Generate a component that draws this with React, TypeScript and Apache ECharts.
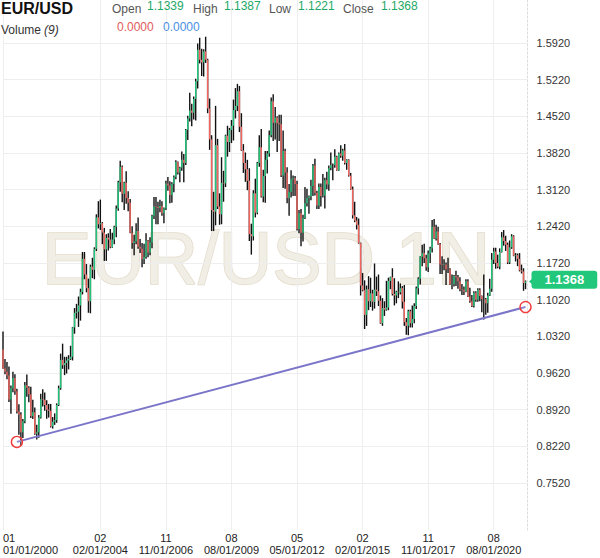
import React, { useEffect, useRef } from "react";
import * as echarts from "echarts";

// Monthly EUR/USD candles, Jan 2000 – Dec 2021
const OPEN = [
  1.0070, 0.9705, 0.9645, 0.9574, 0.9116, 0.9330, 0.9525, 0.9272, 0.8887, 0.8829, 0.8488, 0.8700,
  0.9388, 0.9340, 0.9215, 0.8800, 0.8870, 0.8460, 0.8490, 0.8770, 0.9120, 0.9110, 0.9010, 0.8920,
  0.8900, 0.8600, 0.8690, 0.8720, 0.9010, 0.9330, 0.9870, 0.9770, 0.9810, 0.9860, 0.9890, 0.9930,
  1.0490, 1.0770, 1.0790, 1.0910, 1.1170, 1.1800, 1.1500, 1.1240, 1.0990, 1.1650, 1.1590, 1.1990,
  1.2590, 1.2460, 1.2480, 1.2300, 1.1980, 1.2200, 1.2170, 1.2020, 1.2170, 1.2410, 1.2760, 1.3260,
  1.3560, 1.3040, 1.3250, 1.2960, 1.2870, 1.2300, 1.2100, 1.2130, 1.2330, 1.2030, 1.1990, 1.1790,
  1.1840, 1.2150, 1.1920, 1.2110, 1.2620, 1.2800, 1.2790, 1.2770, 1.2810, 1.2670, 1.2760, 1.3240,
  1.3200, 1.3020, 1.3230, 1.3360, 1.3650, 1.3450, 1.3540, 1.3690, 1.3630, 1.4260, 1.4480, 1.4630,
  1.4590, 1.4850, 1.5190, 1.5790, 1.5600, 1.5550, 1.5760, 1.5600, 1.4670, 1.4080, 1.2730, 1.2700,
  1.3970, 1.2800, 1.2650, 1.3250, 1.3240, 1.4150, 1.4030, 1.4260, 1.4340, 1.4640, 1.4720, 1.5000,
  1.4320, 1.3870, 1.3630, 1.3510, 1.3290, 1.2270, 1.2230, 1.3050, 1.2680, 1.3630, 1.3930, 1.2990,
  1.3380, 1.3690, 1.3810, 1.4160, 1.4810, 1.4400, 1.4500, 1.4390, 1.4370, 1.3390, 1.3860, 1.3450,
  1.2960, 1.3080, 1.3320, 1.3340, 1.3230, 1.2370, 1.2670, 1.2300, 1.2580, 1.2860, 1.2960, 1.2990,
  1.3190, 1.3580, 1.3060, 1.2820, 1.3170, 1.3000, 1.3010, 1.3300, 1.3220, 1.3530, 1.3590, 1.3590,
  1.3750, 1.3490, 1.3810, 1.3770, 1.3870, 1.3630, 1.3690, 1.3390, 1.3130, 1.2630, 1.2530, 1.2450,
  1.2100, 1.1290, 1.1200, 1.0730, 1.1220, 1.0990, 1.1140, 1.0980, 1.1210, 1.1180, 1.1000, 1.0570,
  1.0860, 1.0830, 1.0870, 1.1380, 1.1450, 1.1130, 1.1100, 1.1170, 1.1160, 1.1240, 1.0980, 1.0590,
  1.0520, 1.0800, 1.0570, 1.0650, 1.0900, 1.1240, 1.1420, 1.1840, 1.1910, 1.1810, 1.1640, 1.1900,
  1.2000, 1.2410, 1.2190, 1.2320, 1.2080, 1.1690, 1.1680, 1.1690, 1.1600, 1.1600, 1.1310, 1.1320,
  1.1470, 1.1450, 1.1370, 1.1220, 1.1210, 1.1170, 1.1370, 1.1080, 1.0990, 1.0900, 1.1150, 1.1020,
  1.1210, 1.1090, 1.1030, 1.1030, 1.0950, 1.1100, 1.1230, 1.1780, 1.1940, 1.1720, 1.1650, 1.1930,
  1.2210, 1.2140, 1.2070, 1.1730, 1.2020, 1.2230, 1.1860, 1.1870, 1.1800, 1.1580, 1.1560, 1.1339,
];

const HIGH = [
  1.0414, 0.9888, 0.9830, 0.9745, 0.9380, 0.9645, 0.9595, 0.9320, 0.9025, 0.8870, 0.8740, 0.9450,
  0.9593, 0.9365, 0.9360, 0.9110, 0.8960, 0.8630, 0.8820, 0.9225, 0.9310, 0.9250, 0.9100, 0.9030,
  0.9030, 0.8780, 0.8850, 0.9040, 0.9380, 0.9990, 1.0180, 0.9930, 0.9930, 0.9960, 1.0140, 1.0500,
  1.0860, 1.0940, 1.1080, 1.1230, 1.1930, 1.1930, 1.1700, 1.1420, 1.1690, 1.1820, 1.2020, 1.2650,
  1.2900, 1.2930, 1.2500, 1.2390, 1.2270, 1.2290, 1.2370, 1.2300, 1.2430, 1.2820, 1.3290, 1.3670,
  1.3580, 1.3270, 1.3470, 1.3090, 1.2940, 1.2420, 1.2260, 1.2480, 1.2590, 1.2180, 1.2100, 1.2090,
  1.2290, 1.2160, 1.2210, 1.2640, 1.2980, 1.2980, 1.2890, 1.2930, 1.2900, 1.2780, 1.3290, 1.3360,
  1.3280, 1.3260, 1.3390, 1.3680, 1.3660, 1.3560, 1.3850, 1.3800, 1.4280, 1.4530, 1.4970, 1.4760,
  1.4900, 1.5240, 1.5910, 1.6020, 1.5810, 1.5800, 1.6040, 1.5620, 1.4860, 1.4160, 1.3080, 1.4720,
  1.4090, 1.3050, 1.3740, 1.3480, 1.4170, 1.4340, 1.4300, 1.4450, 1.4840, 1.5060, 1.5140, 1.5100,
  1.4580, 1.3990, 1.3830, 1.3690, 1.3530, 1.2470, 1.3110, 1.3330, 1.3650, 1.4160, 1.4280, 1.3500,
  1.3860, 1.3860, 1.4250, 1.4880, 1.4940, 1.4700, 1.4520, 1.4550, 1.4550, 1.4250, 1.3900, 1.3550,
  1.3230, 1.3490, 1.3390, 1.3380, 1.3290, 1.2730, 1.2750, 1.2640, 1.3170, 1.3140, 1.3010, 1.3310,
  1.3610, 1.3710, 1.3100, 1.3240, 1.3240, 1.3420, 1.3350, 1.3460, 1.3580, 1.3830, 1.3620, 1.3890,
  1.3770, 1.3830, 1.3970, 1.3900, 1.3990, 1.3700, 1.3700, 1.3440, 1.3180, 1.2890, 1.2600, 1.2570,
  1.2110, 1.1530, 1.1390, 1.1290, 1.1470, 1.1440, 1.1210, 1.1710, 1.1460, 1.1500, 1.1100, 1.1050,
  1.0990, 1.1380, 1.1440, 1.1460, 1.1620, 1.1430, 1.1190, 1.1370, 1.1330, 1.1280, 1.1300, 1.0670,
  1.0830, 1.0830, 1.0910, 1.0950, 1.1270, 1.1450, 1.1850, 1.2070, 1.2090, 1.1880, 1.1960, 1.2030,
  1.2540, 1.2560, 1.2450, 1.2410, 1.2100, 1.1850, 1.1790, 1.1730, 1.1820, 1.1620, 1.1500, 1.1490,
  1.1570, 1.1490, 1.1450, 1.1320, 1.1270, 1.1410, 1.1410, 1.1250, 1.1110, 1.1180, 1.1180, 1.1240,
  1.1240, 1.1100, 1.1500, 1.1050, 1.1150, 1.1420, 1.1910, 1.2010, 1.2010, 1.1880, 1.2000, 1.2310,
  1.2350, 1.2240, 1.2110, 1.2150, 1.2270, 1.2250, 1.1910, 1.1900, 1.1910, 1.1690, 1.1620, 1.1387,
];

const LOW = [
  0.9700, 0.9596, 0.9502, 0.9066, 0.8844, 0.9255, 0.9203, 0.8845, 0.8440, 0.8228, 0.8380, 0.8660,
  0.9165, 0.9060, 0.8760, 0.8740, 0.8440, 0.8350, 0.8385, 0.8750, 0.8980, 0.8900, 0.8745, 0.8770,
  0.8580, 0.8560, 0.8630, 0.8670, 0.8990, 0.9300, 0.9700, 0.9580, 0.9610, 0.9690, 0.9870, 0.9860,
  1.0370, 1.0660, 1.0500, 1.0620, 1.1120, 1.1410, 1.1160, 1.0770, 1.0760, 1.1430, 1.1410, 1.1950,
  1.2380, 1.2350, 1.2080, 1.1760, 1.1760, 1.1960, 1.2000, 1.2010, 1.2080, 1.2210, 1.2720, 1.3080,
  1.2880, 1.2730, 1.2850, 1.2710, 1.2290, 1.1990, 1.1870, 1.2080, 1.1990, 1.1910, 1.1640, 1.1700,
  1.1800, 1.1830, 1.1870, 1.2000, 1.2560, 1.2460, 1.2460, 1.2690, 1.2620, 1.2480, 1.2730, 1.3100,
  1.2860, 1.2870, 1.3070, 1.3320, 1.3410, 1.3260, 1.3480, 1.3260, 1.3590, 1.4070, 1.4420, 1.4330,
  1.4460, 1.4440, 1.5050, 1.5530, 1.5290, 1.5280, 1.5540, 1.4580, 1.3880, 1.2330, 1.2330, 1.2440,
  1.2750, 1.2450, 1.2460, 1.2890, 1.3170, 1.3750, 1.3840, 1.4010, 1.4060, 1.4480, 1.4620, 1.4220,
  1.3860, 1.3440, 1.3270, 1.3110, 1.2140, 1.1880, 1.2150, 1.2590, 1.2650, 1.3560, 1.2970, 1.2880,
  1.2870, 1.3430, 1.3750, 1.4120, 1.4050, 1.4080, 1.3840, 1.4050, 1.3360, 1.3150, 1.3140, 1.2860,
  1.2620, 1.2970, 1.3000, 1.3000, 1.2340, 1.2290, 1.2040, 1.2130, 1.2560, 1.2800, 1.2660, 1.2920,
  1.3000, 1.3010, 1.2750, 1.2750, 1.2800, 1.2970, 1.2760, 1.3130, 1.3100, 1.3490, 1.3300, 1.3540,
  1.3480, 1.3480, 1.3730, 1.3670, 1.3600, 1.3500, 1.3370, 1.3120, 1.2570, 1.2500, 1.2360, 1.2090,
  1.1100, 1.1180, 1.0460, 1.0520, 1.0820, 1.0880, 1.0810, 1.0850, 1.1090, 1.0900, 1.0560, 1.0520,
  1.0710, 1.0810, 1.0820, 1.1220, 1.1100, 1.0910, 1.0950, 1.1050, 1.1120, 1.0850, 1.0520, 1.0350,
  1.0340, 1.0490, 1.0490, 1.0570, 1.0840, 1.1120, 1.1310, 1.1660, 1.1720, 1.1570, 1.1550, 1.1720,
  1.1920, 1.2180, 1.2150, 1.2070, 1.1510, 1.1510, 1.1580, 1.1300, 1.1530, 1.1300, 1.1220, 1.1270,
  1.1280, 1.1230, 1.1180, 1.1110, 1.1110, 1.1160, 1.1070, 1.0960, 1.0880, 1.0870, 1.0980, 1.0980,
  1.0990, 1.0780, 1.0640, 1.0730, 1.0770, 1.1090, 1.1170, 1.1700, 1.1610, 1.1620, 1.1600, 1.1920,
  1.2050, 1.1950, 1.1700, 1.1700, 1.1990, 1.1850, 1.1750, 1.1660, 1.1560, 1.1520, 1.1190, 1.1221,
];

const CLOSE = [
  0.9705, 0.9645, 0.9574, 0.9116, 0.9330, 0.9525, 0.9272, 0.8887, 0.8829, 0.8488, 0.8700, 0.9388,
  0.9340, 0.9215, 0.8800, 0.8870, 0.8460, 0.8490, 0.8770, 0.9120, 0.9110, 0.9010, 0.8920, 0.8900,
  0.8600, 0.8690, 0.8720, 0.9010, 0.9330, 0.9870, 0.9770, 0.9810, 0.9860, 0.9890, 0.9930, 1.0490,
  1.0770, 1.0790, 1.0910, 1.1170, 1.1800, 1.1500, 1.1240, 1.0990, 1.1650, 1.1590, 1.1990, 1.2590,
  1.2460, 1.2480, 1.2300, 1.1980, 1.2200, 1.2170, 1.2020, 1.2170, 1.2410, 1.2760, 1.3260, 1.3560,
  1.3040, 1.3250, 1.2960, 1.2870, 1.2300, 1.2100, 1.2130, 1.2330, 1.2030, 1.1990, 1.1790, 1.1840,
  1.2150, 1.1920, 1.2110, 1.2620, 1.2800, 1.2790, 1.2770, 1.2810, 1.2670, 1.2760, 1.3240, 1.3200,
  1.3020, 1.3230, 1.3360, 1.3650, 1.3450, 1.3540, 1.3690, 1.3630, 1.4260, 1.4480, 1.4630, 1.4590,
  1.4850, 1.5190, 1.5790, 1.5600, 1.5550, 1.5760, 1.5600, 1.4670, 1.4080, 1.2730, 1.2700, 1.3970,
  1.2800, 1.2650, 1.3250, 1.3240, 1.4150, 1.4030, 1.4260, 1.4340, 1.4640, 1.4720, 1.5000, 1.4320,
  1.3870, 1.3630, 1.3510, 1.3290, 1.2270, 1.2230, 1.3050, 1.2680, 1.3630, 1.3930, 1.2990, 1.3380,
  1.3690, 1.3810, 1.4160, 1.4810, 1.4400, 1.4500, 1.4390, 1.4370, 1.3390, 1.3860, 1.3450, 1.2960,
  1.3080, 1.3320, 1.3340, 1.3230, 1.2370, 1.2670, 1.2300, 1.2580, 1.2860, 1.2960, 1.2990, 1.3190,
  1.3580, 1.3060, 1.2820, 1.3170, 1.3000, 1.3010, 1.3300, 1.3220, 1.3530, 1.3590, 1.3590, 1.3750,
  1.3490, 1.3810, 1.3770, 1.3870, 1.3630, 1.3690, 1.3390, 1.3130, 1.2630, 1.2530, 1.2450, 1.2100,
  1.1290, 1.1200, 1.0730, 1.1220, 1.0990, 1.1140, 1.0980, 1.1210, 1.1180, 1.1000, 1.0570, 1.0860,
  1.0830, 1.0870, 1.1380, 1.1450, 1.1130, 1.1100, 1.1170, 1.1160, 1.1240, 1.0980, 1.0590, 1.0520,
  1.0800, 1.0570, 1.0650, 1.0900, 1.1240, 1.1420, 1.1840, 1.1910, 1.1810, 1.1640, 1.1900, 1.2000,
  1.2410, 1.2190, 1.2320, 1.2080, 1.1690, 1.1680, 1.1690, 1.1600, 1.1600, 1.1310, 1.1320, 1.1470,
  1.1450, 1.1370, 1.1220, 1.1210, 1.1170, 1.1370, 1.1080, 1.0990, 1.0900, 1.1150, 1.1020, 1.1210,
  1.1090, 1.1030, 1.1030, 1.0950, 1.1100, 1.1230, 1.1780, 1.1940, 1.1720, 1.1650, 1.1930, 1.2210,
  1.2140, 1.2070, 1.1730, 1.2020, 1.2230, 1.1860, 1.1870, 1.1800, 1.1580, 1.1560, 1.1339, 1.1368,
];

const START_YEAR = 2000;
const MONTH_COUNT = 265; // Jan 2000 .. Jan 2022 (last slot is empty space)
const Y_TICKS = [0.752, 0.822, 0.892, 0.962, 1.032, 1.102, 1.172, 1.242, 1.312, 1.382, 1.452, 1.522, 1.592];
const X_LABEL_INDEX = [0, 49, 82, 115, 148, 181, 214, 247];
const TREND_POINTS = [[7, 0.8305], [263, 1.088]];
const LAST_INDEX = 263;
const LAST_PRICE = 1.1368;
const HEADER_VALUES = { open: "1.1339", high: "1.1387", low: "1.1221", close: "1.1368" };
const VOLUME_VALUES = ["0.0000", "0.0000"];

const CATEGORIES: string[] = [];
for (let i = 0; i < MONTH_COUNT; i++) {
  const y = START_YEAR + Math.floor(i / 12);
  const m = (i % 12) + 1;
  CATEGORIES.push(`${m < 10 ? "0" + m : m}/01/${y}`);
}

const GREEN = "#22c47a";
const RED = "#f2655e";
const TAG_GREEN = "#21c77a";
const FONT = "Arial, 'Liberation Sans', sans-serif";

export default function App() {
  const ref = useRef<HTMLDivElement>(null);
  useEffect(() => {
    const chart = echarts.init(ref.current!, null, { renderer: "svg" });
    const candles = OPEN.map((o, i) => [i, o, CLOSE[i], LOW[i], HIGH[i]]);
    const isLabel = (i: number) => X_LABEL_INDEX.indexOf(i) >= 0;

    const hText = (text: string, x: number, y: number, fill: string, font: string) => ({
      type: "text",
      x,
      y,
      z: 20,
      silent: true,
      style: { text, fill, font, textVerticalAlign: "middle" },
    });

    const option: any = {
      animation: false,
      backgroundColor: "#ffffff",
      grid: { left: -0.5, right: 72.5, top: 0, bottom: 28, containLabel: false },
      xAxis: {
        type: "category",
        data: CATEGORIES,
        boundaryGap: false,
        axisLine: { show: false },
        axisTick: { show: false },
        axisLabel: {
          interval: (i: number) => isLabel(i),
          formatter: (v: string) => `${v.slice(0, 2)}\n${v}`,
          color: "#222",
          fontSize: 11,
          lineHeight: 12,
          margin: 2,
          fontFamily: FONT,
          alignMinLabel: "left",
        },
        splitLine: {
          show: true,
          interval: (i: number) => isLabel(i),
          lineStyle: { color: "#eeeeee", width: 1 },
        },
      },
      yAxis: {
        type: "value",
        position: "right",
        min: 0.6623,
        max: 1.6741,
        scale: true,
        axisLine: { show: true, lineStyle: { color: "#dcdcdc", type: [2, 2] } },
        axisTick: { show: false, customValues: Y_TICKS },
        axisLabel: {
          customValues: Y_TICKS,
          formatter: (v: number) => v.toFixed(4),
          color: "#333",
          fontSize: 11,
          margin: 9,
          fontFamily: FONT,
        },
        splitLine: { show: true, lineStyle: { color: "#eeeeee", width: 1 } },
      },
      graphic: [
        {
          type: "text",
          x: 266,
          y: 295,
          z: 0,
          silent: true,
          style: {
            text: "EUR/USD 1N",
            font: `74px ${FONT}`,
            fill: "#f1eee6",
            stroke: "#e3dccb",
            lineWidth: 1.5,
            textAlign: "center",
            textVerticalAlign: "bottom",
          },
        },
        hText("EUR/USD", 1, 8, "#111", `bold 16px ${FONT}`),
        hText("Open", 112, 9, "#555", `12px ${FONT}`),
        hText(HEADER_VALUES.open, 147, 6, "#1ea866", `12px ${FONT}`),
        hText("High", 193, 9, "#555", `12px ${FONT}`),
        hText(HEADER_VALUES.high, 224, 6, "#1ea866", `12px ${FONT}`),
        hText("Low", 269, 9, "#555", `12px ${FONT}`),
        hText(HEADER_VALUES.low, 298, 6, "#1ea866", `12px ${FONT}`),
        hText("Close", 343, 9, "#555", `12px ${FONT}`),
        hText(HEADER_VALUES.close, 381, 6, "#1ea866", `12px ${FONT}`),
        hText("Volume", 1, 30, "#333", `12px ${FONT}`),
        hText("(9)", 44, 30, "#333", `italic 12px ${FONT}`),
        hText(VOLUME_VALUES[0], 117, 27, "#e15a5a", `12px ${FONT}`),
        hText(VOLUME_VALUES[1], 163, 27, "#4a8fe3", `12px ${FONT}`),
      ],
      series: [
        {
          type: "custom",
          name: "EUR/USD",
          z: 3,
          silent: true,
          data: candles,
          encode: { x: 0, y: [1, 2, 3, 4] },
          renderItem: (params: any, api: any) => {
            const x = api.value(0);
            const o = api.value(1);
            const c = api.value(2);
            const l = api.value(3);
            const h = api.value(4);
            const pH = api.coord([x, h]);
            const pL = api.coord([x, l]);
            const pO = api.coord([x, o]);
            const pC = api.coord([x, c]);
            const up = c >= o;
            return {
              type: "group",
              children: [
                {
                  type: "line",
                  shape: { x1: pH[0], y1: pH[1], x2: pL[0], y2: pL[1] },
                  style: { stroke: "#111", lineWidth: 1.4 },
                },
                {
                  type: "line",
                  shape: { x1: pO[0], y1: pO[1], x2: pC[0], y2: pC[1] },
                  style: { stroke: up ? GREEN : RED, lineWidth: 1.4 },
                },
              ],
            };
          },
        },
        {
          type: "line",
          name: "trend",
          z: 5,
          silent: true,
          clip: false,
          data: TREND_POINTS,
          symbol: "circle",
          symbolSize: 11,
          showSymbol: true,
          showAllSymbol: true,
          lineStyle: { color: "#7b75c9", width: 2 },
          itemStyle: { color: "rgba(255,255,255,0.15)", borderColor: "#f03c3c", borderWidth: 1.4 },
          markPoint: {
            silent: true,
            symbol: "triangle",
            symbolSize: [9, 5],
            symbolRotate: 90,
            symbolOffset: [6, 0],
            itemStyle: { color: TAG_GREEN },
            label: { show: false },
            data: [{ coord: [LAST_INDEX, LAST_PRICE] }],
          },
          markLine: {
            silent: true,
            symbol: "none",
            lineStyle: { color: "rgba(0,0,0,0)", width: 0 },
            data: [
              {
                yAxis: LAST_PRICE,
                label: {
                  show: true,
                  position: "end",
                  distance: 4,
                  formatter: () => LAST_PRICE.toFixed(4),
                  backgroundColor: TAG_GREEN,
                  color: "#fff",
                  fontWeight: "bold",
                  fontSize: 13,
                  lineHeight: 14,
                  fontFamily: FONT,
                  padding: [2, 13, 2, 13],
                  borderRadius: 3,
                },
              },
            ],
          },
        },
      ],
    };
    chart.setOption(option);
    return () => chart.dispose();
  }, []);
  return (
    <div
      ref={ref}
      style={{ position: "fixed", left: 0, top: 0, width: 600, height: 558, background: "#fff" }}
    />
  );
}
